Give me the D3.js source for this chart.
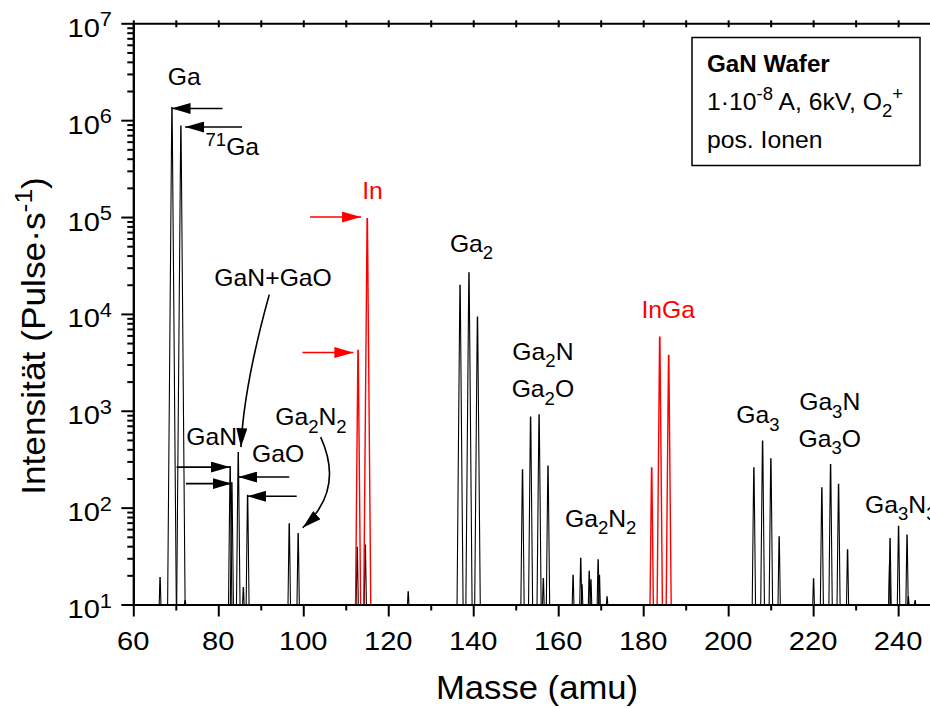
<!DOCTYPE html>
<html>
<head>
<meta charset="utf-8">
<script src="https://cdn.jsdelivr.net/npm/d3@7"></script>
<style>
body{margin:0;background:#fff}
svg{display:block}
text{font-family:"Liberation Sans",Arial,sans-serif;fill:#000}
</style>
</head>
<body>
<div id="chart"></div>
<script>
// peaks of the spectrum (mass in amu, intensity in Pulse/s)
const blackMass = [66.3, 69.1, 71.2, 72.2, 82.8, 83.2, 84.7, 85.9, 86.9, 96.7, 98.8, 112.7, 114.6, 124.7,
    136.9, 139.0, 141.0, 151.6, 153.5, 155.5, 156.5, 157.6, 163.5, 165.3, 165.6, 167.3, 167.7, 169.4, 169.7, 171.5,
    206.05, 208.1, 210.05, 212.0, 220.1, 222.05, 224.1, 225.98, 228.1, 238.0, 238.1, 240.1, 242.1, 242.4, 244.0];
const blackInt = [19, 1.35e6, 8.7e5, 11, 265, 180, 370, 15, 134, 68, 54, 39, 41, 13.5,
    19700, 26500, 9300, 246, 861, 910, 18.5, 268, 20, 30, 16, 22, 18, 29, 20, 12,
    258, 486, 320, 50, 18.4, 160, 279, 174, 36.7, 26, 48, 64, 52, 12, 11];
// indium containing peaks
const redMass = [112.9, 115.06, 182.0, 183.9, 186.0];
const redInt = [4200, 96000, 257, 5750, 3730];

const xMajor = [60, 80, 100, 120, 140, 160, 180, 200, 220, 240];
const xMinor = [70, 90, 110, 130, 150, 170, 190, 210, 230];
const yExp = [1, 2, 3, 4, 5, 6, 7];

// peak labels
const labelParts = [
    [['Ga']],
    [['71', 'sup'], ['Ga']],
    [['In']],
    [['GaN+GaO']],
    [['GaN']],
    [['GaO']],
    [['Ga'], ['2', 'sub'], ['N'], ['2', 'sub']],
    [['Ga'], ['2', 'sub']],
    [['Ga'], ['2', 'sub'], ['N']],
    [['Ga'], ['2', 'sub'], ['O']],
    [['Ga'], ['2', 'sub'], ['N'], ['2', 'sub']],
    [['InGa']],
    [['Ga'], ['3', 'sub']],
    [['Ga'], ['3', 'sub'], ['N']],
    [['Ga'], ['3', 'sub'], ['O']],
    [['Ga'], ['3', 'sub'], ['N'], ['3', 'sub']]
];
const labelMass = [72.0, 83.3, 116.3, 92.9, 78.45, 94.1, 101.8, 139.6, 156.4, 156.4, 170.0, 185.9, 207.0, 223.9, 223.9, 232.2];
const labelInt = [2.3e6, 4.35e5, 1.53e5, 1.93e4, 440, 297, 706, 4.33e4, 3320, 1374, 63, 9020, 741, 1009, 422, 89];
const labelIsIn = [0, 0, 1, 0, 0, 0, 0, 0, 0, 0, 0, 1, 0, 0, 0, 0];

// straight arrows: tail -> tip
const arrowFrom = [[81, 1.32e6], [85.6, 8.5e5], [101.6, 1e5], [99.8, 3990], [70.2, 262], [72.4, 177], [96.7, 207], [98.45, 131]];
const arrowTo = [[69.0, 1.32e6], [72.2, 8.5e5], [113.6, 1e5], [111.8, 3990], [82.75, 262], [83.15, 177], [84.7, 207], [86.8, 131]];
const arrowIsIn = [0, 0, 1, 1, 0, 0, 0, 0];
// curved arrows
const curveFrom = [[92.0, 1.58e4], [104.1, 535]];
const curveVia = [[86.05, 1830], [109.8, 151]];
const curveTo = [[85.33, 421], [99.86, 62]];


const W = 930, H = 708;
const pL = 133.3, pR = 930, pT = 23.3, pB = 604.5;

const x = d3.scaleLinear().domain([60, 247.5]).range([pL, pR]);
const y = d3.scaleLog().domain([10, 1e7]).range([pB, pT]);

const svg = d3.select('#chart').append('svg')
    .attr('width', W).attr('height', H);

const defs = svg.append('defs');
defs.append('clipPath').attr('id', 'plot')
    .append('rect').attr('x', pL).attr('y', pT).attr('width', pR - pL).attr('height', pB - pT);

[['ahK', '#000'], ['ahR', '#ff0000']].forEach(([id, c]) => {
    defs.append('marker').attr('id', id)
        .attr('viewBox', '0 0 19 11').attr('refX', 19).attr('refY', 5.5)
        .attr('markerWidth', 19).attr('markerHeight', 11)
        .attr('markerUnits', 'userSpaceOnUse').attr('orient', 'auto')
      .append('path').attr('d', 'M0,0L19,5.5L0,11Z').attr('fill', c);
});

// text with sub/superscripts; the glyphs come out a bit wide in the original
function rich(sel, parts, fs) {
    let cur = 0;
    parts.forEach(([t, kind]) => {
        const target = kind === 'sup' ? -0.4 * fs : kind === 'sub' ? 0.3 * fs : 0;
        sel.append('tspan')
            .attr('dy', (target - cur).toFixed(2))
            .attr('font-size', kind ? fs * 0.75 : fs)
            .text(t);
        cur = target;
    });
}
function at(px, py, sx, rot) {
    return `translate(${px},${py})` + (rot ? ` rotate(${rot})` : '') + ` scale(${sx},1)`;
}

// peak shape, a thin spike standing on the lower axis
function peakPath(m, h) {
    const lh = Math.log10(h / 10);
    const hw = 0.15 + 0.17 * lh, tw = 0.04;
    return d3.line()([[x(m - hw), y(10)], [x(m - tw), y(h)], [x(m + tw), y(h)], [x(m + hw), y(10)]]);
}

const plot = svg.append('g').attr('clip-path', 'url(#plot)');

plot.append('g')
    .attr('fill', 'none').attr('stroke', '#000').attr('stroke-width', 1.1)
  .selectAll('path')
  .data(d3.zip(blackMass, blackInt))
  .join('path')
    .attr('d', d => peakPath(d[0], d[1]));

plot.append('g')
    .attr('fill', 'none').attr('stroke', '#ff0000').attr('stroke-width', 1.4)
  .selectAll('path')
  .data(d3.zip(redMass, redInt))
  .join('path')
    .attr('d', d => peakPath(d[0], d[1]));

// axes
svg.append('g').attr('transform', `translate(0,${pB})`)
    .call(d3.axisBottom(x).tickValues(xMajor).tickSize(12).tickSizeOuter(0).tickFormat(''));
svg.append('g').attr('transform', `translate(0,${pB})`)
    .call(d3.axisBottom(x).tickValues(xMinor).tickSize(6).tickSizeOuter(0).tickFormat(''));

const yMinor = [];
yExp.slice(0, -1).forEach(e => d3.range(2, 10).forEach(k => yMinor.push(k * Math.pow(10, e))));

svg.append('g').attr('transform', `translate(${pL},0)`)
    .call(d3.axisLeft(y).tickValues(yExp.map(e => Math.pow(10, e))).tickSize(12).tickSizeOuter(0).tickFormat(''));
svg.append('g').attr('transform', `translate(${pL},0)`)
    .call(d3.axisLeft(y).tickValues(yMinor).tickSize(6).tickSizeOuter(0).tickFormat(''));

// top frame with small ticks
svg.append('g').attr('transform', `translate(0,${pT})`)
    .call(d3.axisTop(x).tickValues(xMajor.concat(xMinor)).tickSize(3).tickSizeOuter(0).tickFormat(''))
    .call(g => g.selectAll('.tick line').attr('y2', 4).attr('y1', -3));

svg.selectAll('.domain').attr('stroke-width', 2);
svg.selectAll('.tick line').attr('stroke-width', 2);

// tick labels
svg.append('g').selectAll('text')
    .data(xMajor).join('text')
    .attr('transform', d => at(x(d), 650, 1.12))
    .attr('text-anchor', 'middle').attr('font-size', 26)
    .text(d => d);

svg.append('g').selectAll('text')
    .data(yExp).join('text')
    .attr('transform', d => at(112, y(Math.pow(10, d)) + 13.5, 1.12))
    .attr('text-anchor', 'end')
    .each(function (d) { rich(d3.select(this), [['10'], [String(d), 'sup']], 26); });

// axis titles
svg.append('text')
    .attr('transform', at(537, 699, 1.05))
    .attr('text-anchor', 'middle').attr('font-size', 33)
    .text('Masse (amu)');

const yt = svg.append('text')
    .attr('transform', at(45, 336, 1.07, -90))
    .attr('text-anchor', 'middle');
rich(yt, [['Intensität (Pulse·s'], ['-1', 'sup'], [')']], 33);

// arrows
svg.append('g').attr('stroke-width', 1.6)
  .selectAll('line')
  .data(d3.range(arrowFrom.length)).join('line')
    .attr('x1', i => x(arrowFrom[i][0])).attr('y1', i => y(arrowFrom[i][1]))
    .attr('x2', i => x(arrowTo[i][0])).attr('y2', i => y(arrowTo[i][1]))
    .attr('stroke', i => arrowIsIn[i] ? '#ff0000' : '#000')
    .attr('marker-end', i => arrowIsIn[i] ? 'url(#ahR)' : 'url(#ahK)');

svg.append('g').attr('stroke-width', 1.6).attr('fill', 'none').attr('stroke', '#000')
  .selectAll('path')
  .data(d3.range(curveFrom.length)).join('path')
    .attr('d', i => {
        const p = d3.path();
        p.moveTo(x(curveFrom[i][0]), y(curveFrom[i][1]));
        p.quadraticCurveTo(x(curveVia[i][0]), y(curveVia[i][1]), x(curveTo[i][0]), y(curveTo[i][1]));
        return p.toString();
    })
    .attr('marker-end', 'url(#ahK)');

// peak labels
svg.append('g').selectAll('text')
    .data(d3.range(labelParts.length)).join('text')
    .attr('transform', i => at(x(labelMass[i]), y(labelInt[i]), 1.03))
    .attr('text-anchor', i => i === labelParts.length - 1 ? 'start' : 'middle')
    .style('fill', i => labelIsIn[i] ? '#ff0000' : '#000')
    .each(function (i) { rich(d3.select(this), labelParts[i], 24); });

// info box
const box = svg.append('g').attr('transform', 'translate(692,37.5)');
box.append('rect').attr('width', 228).attr('height', 128)
    .attr('fill', '#fff').attr('stroke', '#000').attr('stroke-width', 1.5);
box.append('text').attr('transform', at(15, 34, 1.03)).attr('font-size', 23.5).attr('font-weight', 'bold')
    .text('GaN Wafer');
rich(box.append('text').attr('transform', at(15, 72, 1.03)),
    [['1·10'], ['-8', 'sup'], [' A, 6kV, O'], ['2', 'sub'], ['+', 'sup']], 24);
box.append('text').attr('transform', at(15, 110, 1.03)).attr('font-size', 24).text('pos. Ionen');
</script>
</body>
</html>
